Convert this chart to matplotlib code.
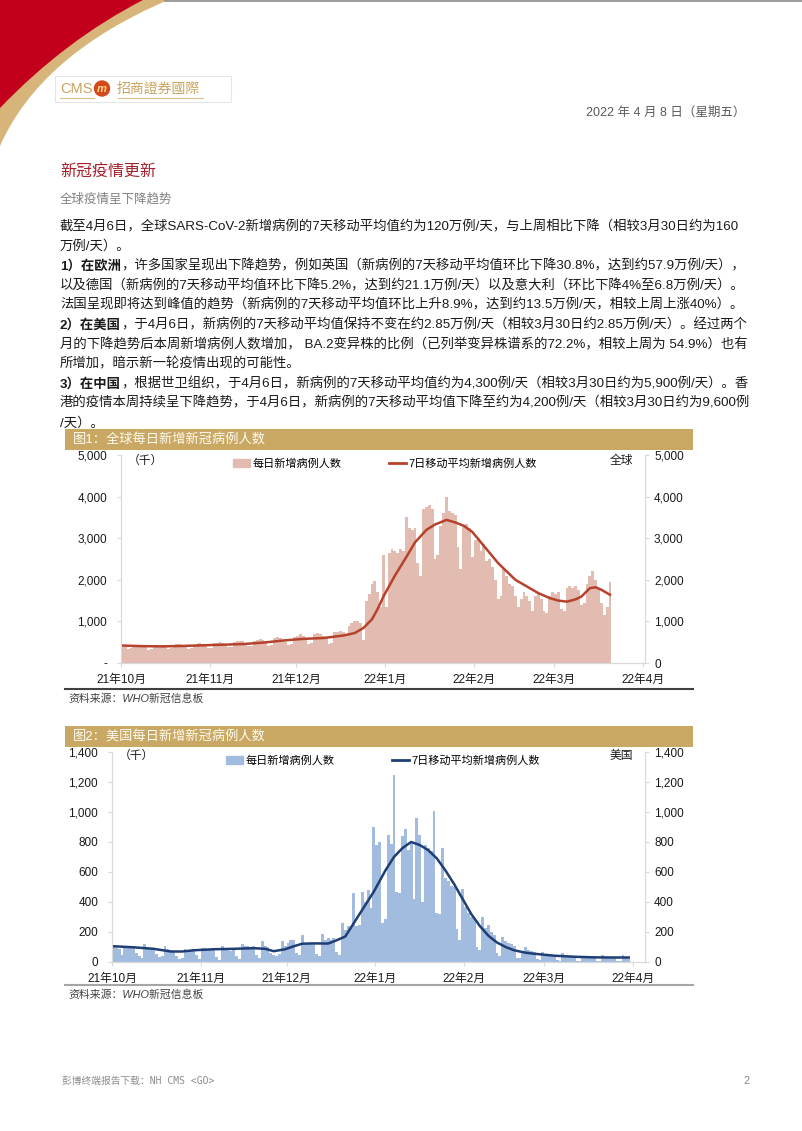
import numpy as np
import matplotlib.pyplot as plt
from matplotlib.path import Path
from matplotlib.patches import PathPatch, Rectangle, Circle, Patch
from matplotlib.lines import Line2D

plt.rcParams['font.family'] = ['Liberation Sans', 'Noto Sans CJK SC']

W, H = 802, 1131

# x axis: day index counted from 2021-10-01
month_ticks = [0, 31, 61, 92, 123, 151, 182]
month_labels = ['21年10月', '21年11月', '21年12月', '22年1月', '22年2月', '22年3月', '22年4月']

# global daily new cases (thousand), 2021-10-01 .. 2022-03-20
global_daily = [
    430, 400, 330, 350, 420, 440, 430, 420, 390, 320, 340, 410, 430, 440,
    430, 400, 330, 350, 430, 450, 450, 440, 410, 340, 360, 440, 460, 470,
    460, 430, 350,
    370, 470, 490, 500, 490, 460, 380, 390, 500, 520, 530, 520, 480, 400,
    410, 540, 560, 570, 560, 510, 420, 440, 600, 620, 600, 540, 500, 430,
    450, 620,
    640, 700, 650, 600, 450, 470, 700, 720, 690, 660, 620, 460, 480, 740,
    750, 760, 740, 700, 900, 960, 1010, 1000, 950, 560, 1500, 1650, 1900, 1980,
    1700, 1350, 2600,
    1350, 2650, 2750, 2700, 2650, 2750, 2700, 3500, 3250, 3200, 3250, 2400, 2100, 3700,
    3750, 3800, 3700, 2500, 2600, 3300, 3600, 4000, 3650, 3600, 3550, 2800, 2250, 3300,
    3350, 3250, 2550,
    2950, 3000, 2700, 2850, 2450, 2500, 2300, 2000, 1550, 1600, 2250, 2100, 1900, 1850,
    1600, 1350, 1550, 1700, 1600, 1500, 1250, 1600, 1650, 1550, 1250, 1200, 1600, 1700,
    1650, 1700, 1300, 1250, 1800, 1850, 1800, 1850, 1750, 1400, 1450, 1900, 2100, 2200,
    2000, 1800, 1450, 1150, 1350, 1950,
]
global_ma_day = [0, 7, 14, 21, 28, 35, 42, 49, 56, 63, 70, 77, 81, 84, 87, 89, 91, 93,
                 95, 99, 102, 106, 109, 113, 116, 119, 122, 125, 128, 131, 134, 137,
                 140, 142, 145, 149, 152, 155, 158, 160, 163, 165, 167, 170]
global_ma = [420, 405, 400, 410, 425, 440, 455, 490, 540, 580, 600, 660, 720, 840, 1050,
             1300, 1600, 1850, 2100, 2550, 2900, 3200, 3330, 3440, 3380, 3300, 3150,
             2900, 2650, 2400, 2200, 2000, 1880, 1800, 1680, 1560, 1500, 1475, 1530,
             1595, 1800, 1820, 1760, 1640]
global_yticks = [0, 1000, 2000, 3000, 4000, 5000]
global_left_labels = ['-', '1,000', '2,000', '3,000', '4,000', '5,000']
global_right_labels = ['0', '1,000', '2,000', '3,000', '4,000', '5,000']

# US daily new cases (thousand), 2021-10-01 .. 2022-03-30
us_daily = [
    110, 95, 90, 45, 110, 105, 100, 95, 60, 40, 30, 120, 95, 90,
    85, 55, 35, 40, 105, 85, 80, 75, 40, 20, 25, 90, 80, 75,
    85, 45, 20, 95, 95, 80, 90, 95, 35, 15, 110, 80, 85, 75,
    90, 40, 20, 120, 110, 105, 95, 110, 50, 30, 140, 105, 100, 60,
    50, 40, 55, 140, 110, 130, 145, 150, 60, 45, 180, 125, 120, 125,
    130, 55, 40, 185, 150, 160, 150, 160, 70, 50, 260, 215, 240, 230,
    460, 240, 250, 470, 400, 480, 360, 900, 780, 800, 260, 290, 850, 790,
    1250, 470, 460, 840, 890, 750, 800, 420, 960, 850, 400, 780, 760, 740,
    1010, 330, 320, 760, 560, 540, 510, 500, 220, 150, 490, 370, 330, 300,
    290, 100, 80, 300, 230, 250, 200, 180, 60, 40, 170, 140, 130, 120,
    110, 30, 25, 70, 100, 80, 75, 70, 20, 15, 65, 55, 50, 50,
    45, 12, 10, 60, 40, 40, 35, 35, 10, 8, 40, 35, 30, 30,
    30, 8, 6, 45, 30, 30, 28, 28, 6, 5, 45, 35, 32,
]
us_ma_day = [0, 7, 14, 20, 24, 28, 35, 42, 49, 53, 56, 60, 63, 66, 70, 75, 78, 81, 84,
             88, 91, 95, 98, 101, 104, 107, 110, 113, 116, 119, 122, 125, 128, 131,
             134, 137, 140, 144, 147, 154, 161, 168, 175, 180]
us_ma = [105, 98, 88, 70, 70, 78, 85, 88, 92, 88, 72, 85, 105, 122, 124, 123, 145, 170,
         260, 380, 470, 610, 700, 760, 800, 780, 745, 690, 610, 520, 420, 320, 240,
         175, 130, 100, 78, 62, 55, 42, 35, 31, 30, 30]
us_yticks = [0, 200, 400, 600, 800, 1000, 1200, 1400]
us_labels = ['0', '200', '400', '600', '800', '1,000', '1,200', '1,400']

fig = plt.figure(figsize=(W / 100, H / 100), dpi=100)
bg = fig.add_axes([0, 0, 1, 1])
bg.set_xlim(0, W)
bg.set_ylim(H, 0)
bg.axis('off')


def box(l, t, r, b):
    return [l / W, 1 - b / H, (r - l) / W, (b - t) / H]


# header swoosh
C = [Path.MOVETO, Path.LINETO, Path.CURVE3, Path.CURVE3, Path.CLOSEPOLY]
bg.add_patch(PathPatch(Path([(0, 0), (168, 0), (40, 55), (0, 146), (0, 0)], C),
                       facecolor='#D7B57A', edgecolor='none'))
bg.add_patch(PathPatch(Path([(0, 0), (143, 0), (65, 40), (0, 108), (0, 0)], C),
                       facecolor='#C3001B', edgecolor='none'))
bg.plot([165, W], [1, 1], color='#8C8C8C', lw=1.2)

# logo
bg.add_patch(Rectangle((55, 76), 176, 26, facecolor='none', edgecolor='#E6E6E6', lw=0.8))
bg.text(60, 89, 'CMS', color='#C9A45E', fontsize=10.5, va='center')
bg.add_patch(Circle((102, 88.5), 7.5, color='#D24A1C'))
bg.text(102, 88.5, 'm', color='#FFD68A', fontsize=8, style='italic', weight='bold',
        ha='center', va='center')
bg.text(117, 89, '招商證券國際', color='#C9A45E', fontsize=10,
        family=['Noto Sans CJK TC'], va='center')
bg.plot([60, 94], [97.5, 97.5], color='#D9C08A', lw=0.8)
bg.plot([118, 203], [97.5, 97.5], color='#D9C08A', lw=0.8)

bg.text(745, 113, '2022 年 4 月 8 日（星期五）', color='#595959', fontsize=9,
        ha='right', va='center')

# headings and body
bg.text(60, 172, '新冠疫情更新', color='#A61E2A', fontsize=11.5, va='center')
bg.text(60, 199, '全球疫情呈下降趋势', color='#808080', fontsize=9, va='center')

body = [
    ('', '截至4月6日，全球SARS-CoV-2新增病例的7天移动平均值约为120万例/天，与上周相比下降（相较3月30日约为160'),
    ('', '万例/天）。'),
    ('1）在欧洲', '，许多国家呈现出下降趋势，例如英国（新病例的7天移动平均值环比下降30.8%，达到约57.9万例/天），'),
    ('', '以及德国（新病例的7天移动平均值环比下降5.2%，达到约21.1万例/天）以及意大利（环比下降4%至6.8万例/天）。'),
    ('', '法国呈现即将达到峰值的趋势（新病例的7天移动平均值环比上升8.9%，达到约13.5万例/天，相较上周上涨40%）。'),
    ('2）在美国', '，于4月6日，新病例的7天移动平均值保持不变在约2.85万例/天（相较3月30日约2.85万例/天）。经过两个'),
    ('', '月的下降趋势后本周新增病例人数增加， BA.2变异株的比例（已列举变异株谱系的72.2%，相较上周为 54.9%）也有'),
    ('', '所增加，暗示新一轮疫情出现的可能性。'),
    ('3）在中国', '，根据世卫组织，于4月6日，新病例的7天移动平均值约为4,300例/天（相较3月30日约为5,900例/天）。香'),
    ('', '港的疫情本周持续呈下降趋势，于4月6日，新病例的7天移动平均值下降至约为4,200例/天（相较3月30日约为9,600例'),
    ('', '/天）。'),
]
for i, (bold, rest) in enumerate(body):
    y = 227 + i * 19.6
    t = bg.text(60, y, bold, fontsize=9.6, weight='bold', color='#1A1A1A', va='center')
    bg.annotate(rest, xy=(1, 0.5), xycoords=t, fontsize=9.6, color='#1A1A1A',
                va='center', ha='left')


def covid_chart(rect, top_bar, title, xmax, daily, ma_day, ma, yticks, left_labels,
                right_labels, bar_color, line_color, region, leg_y, leg_x, colspace,
                src_y, rule_color):
    l, t, r, b = rect
    bg.add_patch(Rectangle((65, top_bar), 628, 21, facecolor='#C8A862', edgecolor='none'))
    bg.text(73, top_bar + 10.5, title, color='#FFFBF0', fontsize=9.5, va='center')
    ax = fig.add_axes(box(l, t, r, b))
    ax.set_facecolor('none')
    ax.bar(np.arange(len(daily)) + 0.5, daily, width=1.0, color=bar_color, linewidth=0)
    ax.plot(np.array(ma_day) + 0.5, ma, color=line_color, lw=1.8)
    ax.set_xlim(0, xmax)
    ax.set_ylim(yticks[0], yticks[-1])
    ax.set_xticks(month_ticks)
    ax.set_xticklabels(month_labels)
    ax.set_yticks(yticks)
    ax.set_yticklabels(left_labels)
    ax2 = ax.twinx()
    ax2.set_ylim(yticks[0], yticks[-1])
    ax2.set_yticks(yticks)
    ax2.set_yticklabels(right_labels)
    for a in (ax, ax2):
        for s in a.spines.values():
            s.set_color('#D9D9D9')
        a.spines['top'].set_visible(False)
        a.tick_params(color='#D9D9D9', labelcolor='#1A1A1A', labelsize=8.5, length=3)
    ax.tick_params(axis='y', pad=7)
    ax.tick_params(axis='x', pad=5)
    handles = [Patch(color=bar_color), Line2D([], [], color=line_color, lw=2)]
    ax2.legend(handles, ['每日新增病例人数', '7日移动平均新增病例人数'], loc='upper center',
               bbox_to_anchor=((leg_x - l) / (r - l), 1.03), ncol=2, frameon=False,
               fontsize=8, handlelength=1.5, handletextpad=0.2, columnspacing=colspace)
    bg.text(l + 7, leg_y, '（千）', fontsize=8.5, va='center', color='#1A1A1A')
    bg.text(r - 35, leg_y, region, fontsize=8.5, va='center', color='#1A1A1A')
    bg.plot([65, 693], [src_y - 10, src_y - 10], color=rule_color, lw=1.5)
    bg.text(68, src_y, '资料来源：WHO新冠信息板', fontsize=7.8, style='italic',
            color='#404040', va='center')
    return ax


covid_chart((121, 455, 645, 663), 429, '图1：全球每日新增新冠病例人数', 182.7,
            global_daily, global_ma_day, global_ma, global_yticks, global_left_labels,
            global_right_labels, '#E2BBB1', '#B6412C', '全球', 461, 385, 4.3, 699,
            '#404040')
covid_chart((112, 752, 645, 962), 726, '图2：美国每日新增新冠病例人数', 186.2,
            us_daily, us_ma_day, us_ma, us_yticks, us_labels, us_labels,
            '#A2BCE0', '#1F3E73', '美国', 756, 383, 5.2, 995, '#A6A6A6')

# footer
bg.text(62, 1081, '彭博终端报告下载：NH CMS <GO>', fontsize=7, color='#8C8C8C',
        family=['DejaVu Sans Mono', 'Noto Sans CJK SC'], va='center')
bg.text(750, 1081, '2', fontsize=8, color='#8C8C8C', ha='right', va='center')

fig.savefig('out.png', dpi=100)
